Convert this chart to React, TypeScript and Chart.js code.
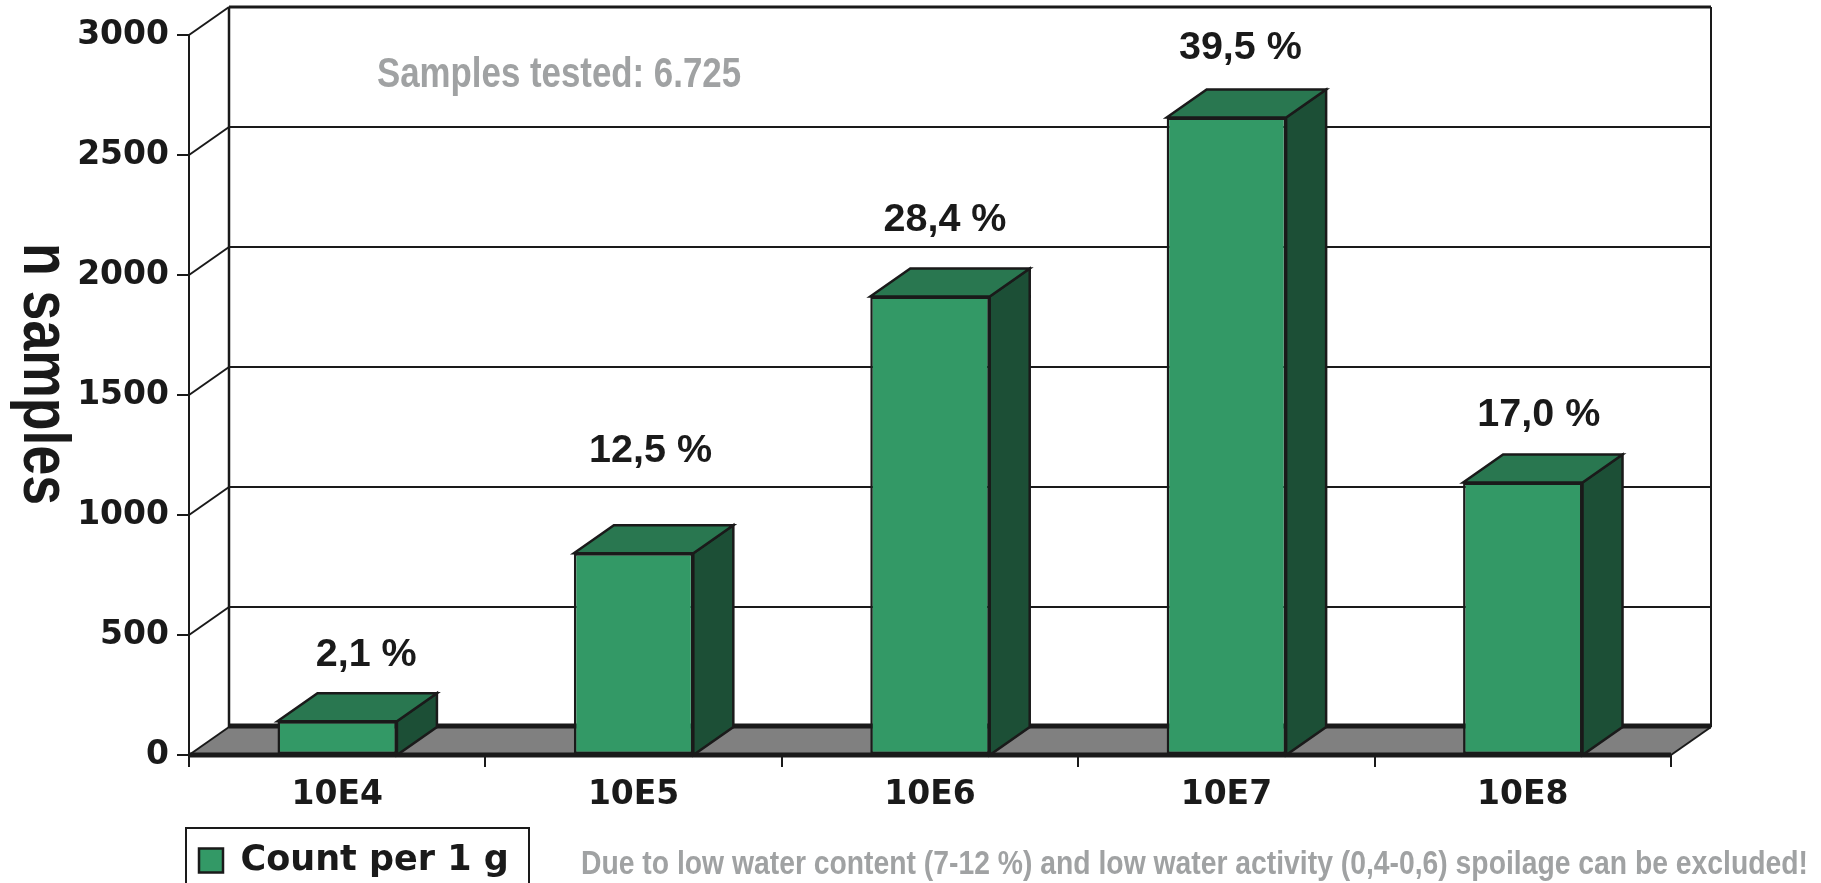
import React, { useEffect, useRef } from "react";
import { Chart, registerables } from "chart.js";

Chart.register(...registerables);

const categories = ["10E4", "10E5", "10E6", "10E7", "10E8"];
const sampleCounts = [141, 841, 1910, 2656, 1135];
const shareLabels = ["2,1 %", "12,5 %", "28,4 %", "39,5 %", "17,0 %"];
const seriesName = "Count per 1 g";
const axisTitle = "n samples";
const testedNote = "Samples tested: 6.725";
const footNote = "Due to low water content (7-12 %) and low water activity (0,4-0,6) spoilage can be excluded!";

const INK = "#1a1a1a";
const GREY_TEXT = "#a0a2a3";
const FRONT = "#339966";
const TOP = "#297750";
const SIDE = "#1c4f36";
const FLOOR = "#808080";
const DX = 40;
const DY = 28;
const labelShift = [
  [29, 66],
  [17, 102],
  [15, 76],
  [14, 69],
  [16, 67],
];

const fitText = (ctx: any, text: string, x: number, y: number, width: number) => {
  const natural = ctx.measureText(text).width;
  ctx.save();
  ctx.translate(x, y);
  ctx.scale(width / natural, 1);
  ctx.fillText(text, 0, 0);
  ctx.restore();
};

const threeD = {
  id: "threeD",
  beforeDatasetsDraw(chart: any) {
    const { ctx, chartArea: a, scales } = chart;
    const y = scales.y;
    const line = (pts: number[][], w: number, c = INK) => {
      ctx.beginPath();
      pts.forEach((p, i) => (i ? ctx.lineTo(p[0], p[1]) : ctx.moveTo(p[0], p[1])));
      ctx.lineWidth = w;
      ctx.strokeStyle = c;
      ctx.stroke();
    };
    const poly = (pts: number[][], fill: string) => {
      ctx.beginPath();
      pts.forEach((p, i) => (i ? ctx.lineTo(p[0], p[1]) : ctx.moveTo(p[0], p[1])));
      ctx.closePath();
      ctx.fillStyle = fill;
      ctx.fill();
      ctx.lineWidth = 2.5;
      ctx.strokeStyle = INK;
      ctx.lineJoin = "miter";
      ctx.stroke();
    };
    ctx.save();
    const bx0 = a.left + DX;
    const bx1 = a.right + DX;
    const floorY = a.bottom - DY;
    // floor
    ctx.beginPath();
    ctx.moveTo(a.left, a.bottom);
    ctx.lineTo(bx0, floorY);
    ctx.lineTo(bx1, floorY);
    ctx.lineTo(a.right, a.bottom);
    ctx.closePath();
    ctx.fillStyle = FLOOR;
    ctx.fill();
    line([[bx0, floorY - 1], [bx1, floorY - 1]], 5);
    line([[a.right, a.bottom], [bx1, floorY]], 2);
    // walls and grid
    y.ticks.forEach((t: any) => {
      const py = y.getPixelForValue(t.value);
      line([[a.left, py], [bx0, py - DY]], 2);
      if (t.value > 0) line([[bx0, py - DY], [bx1, py - DY]], t.value === 3000 ? 3 : 2);
    });
    line([[bx0, a.top - DY], [bx0, floorY]], 2.5);
    line([[bx1, a.top - DY], [bx1, floorY]], 2);
    // bar side and top faces
    chart.getDatasetMeta(0).data.forEach((bar: any) => {
      const l = bar.x - bar.width / 2;
      const r = bar.x + bar.width / 2;
      poly([[r, bar.y], [r + DX, bar.y - DY], [r + DX, a.bottom - DY], [r, a.bottom]], SIDE);
      poly([[l, bar.y], [l + DX, bar.y - DY], [r + DX, bar.y - DY], [r, bar.y]], TOP);
    });
    ctx.restore();
  },
  afterLayout(chart: any) {
    const lg = chart.legend;
    lg.left = 187;
    lg.right = 529;
    lg.width = 342;
    lg.top = 831;
    lg.bottom = 883;
    lg.height = 52;
  },
  afterDraw(chart: any) {
    const { ctx, chartArea: a } = chart;
    ctx.save();
    // x axis baseline on top of the bars
    ctx.beginPath();
    ctx.moveTo(a.left, a.bottom);
    ctx.lineTo(a.right, a.bottom);
    ctx.lineWidth = 5;
    ctx.strokeStyle = INK;
    ctx.stroke();
    // legend frame, open past the page's lower edge
    ctx.lineWidth = 2;
    ctx.strokeRect(186, 828, 343, 80);
    // share labels
    ctx.fillStyle = INK;
    ctx.textAlign = "center";
    ctx.textBaseline = "middle";
    ctx.font = 'bold 39.5px "Liberation Sans"';
    chart.getDatasetMeta(0).data.forEach((bar: any, i: number) => {
      ctx.fillText(shareLabels[i], bar.x + labelShift[i][0], bar.y - labelShift[i][1]);
    });
    // axis title, reading downward
    ctx.save();
    ctx.translate(24, 243);
    ctx.rotate(Math.PI / 2);
    ctx.textAlign = "left";
    ctx.textBaseline = "alphabetic";
    ctx.font = 'bold 66px "Liberation Sans"';
    fitText(ctx, axisTitle, 0, 0, 262);
    ctx.restore();
    // notes
    ctx.fillStyle = GREY_TEXT;
    ctx.textAlign = "left";
    ctx.font = 'bold 43px "Liberation Sans"';
    fitText(ctx, testedNote, 377, 75, 364);
    ctx.font = 'bold 33px "Liberation Sans"';
    fitText(ctx, footNote, 581, 865, 1227);
    ctx.restore();
  },
};

const tickFont = { family: '"DejaVu Sans"', size: 33, weight: "bold" };

export default function App() {
  const ref = useRef<HTMLCanvasElement>(null);
  useEffect(() => {
    const chart = new Chart(ref.current!, {
      type: "bar",
      data: {
        labels: categories,
        datasets: [
          {
            label: seriesName,
            data: sampleCounts,
            backgroundColor: FRONT,
            borderColor: INK,
            borderWidth: 2.5,
            borderSkipped: false,
            barPercentage: 0.403,
            categoryPercentage: 1,
          },
        ],
      },
      options: {
        animation: false,
        responsive: false,
        layout: { padding: { top: 35, right: 150, left: 0, bottom: 0 } },
        plugins: {
          title: { display: false },
          tooltip: { enabled: false },
          legend: {
            display: true,
            position: "chartArea",
            align: "start",
            labels: {
              boxWidth: 24,
              boxHeight: 24,
              padding: 12,
              color: INK,
              font: { family: '"DejaVu Sans"', size: 35, weight: "bold" },
            },
          },
        },
        scales: {
          x: {
            afterFit: (s: any) => { s.height = 128; },
            grid: { drawOnChartArea: false, drawTicks: true, tickLength: 12, color: INK, lineWidth: 2 },
            border: { color: INK, width: 2 },
            ticks: {
              color: INK,
              padding: 9,
              maxRotation: 0,
              font: tickFont,
            },
          },
          y: {
            min: 0,
            max: 3000,
            afterFit: (s: any) => { s.width = 189; },
            grid: { drawOnChartArea: false, drawTicks: true, tickLength: 12, color: INK, lineWidth: 2 },
            border: { color: INK, width: 2 },
            ticks: {
              stepSize: 500,
              color: INK,
              padding: 8,
              font: tickFont,
              callback: (v: any) => String(v),
            },
          },
        },
      },
      plugins: [threeD],
    } as any);
    return () => chart.destroy();
  }, []);
  return (
    <canvas
      ref={ref}
      width={1821}
      height={883}
      style={{ position: "absolute", left: 0, top: 0, width: 1821, height: 883, background: "#fff" }}
    />
  );
}
